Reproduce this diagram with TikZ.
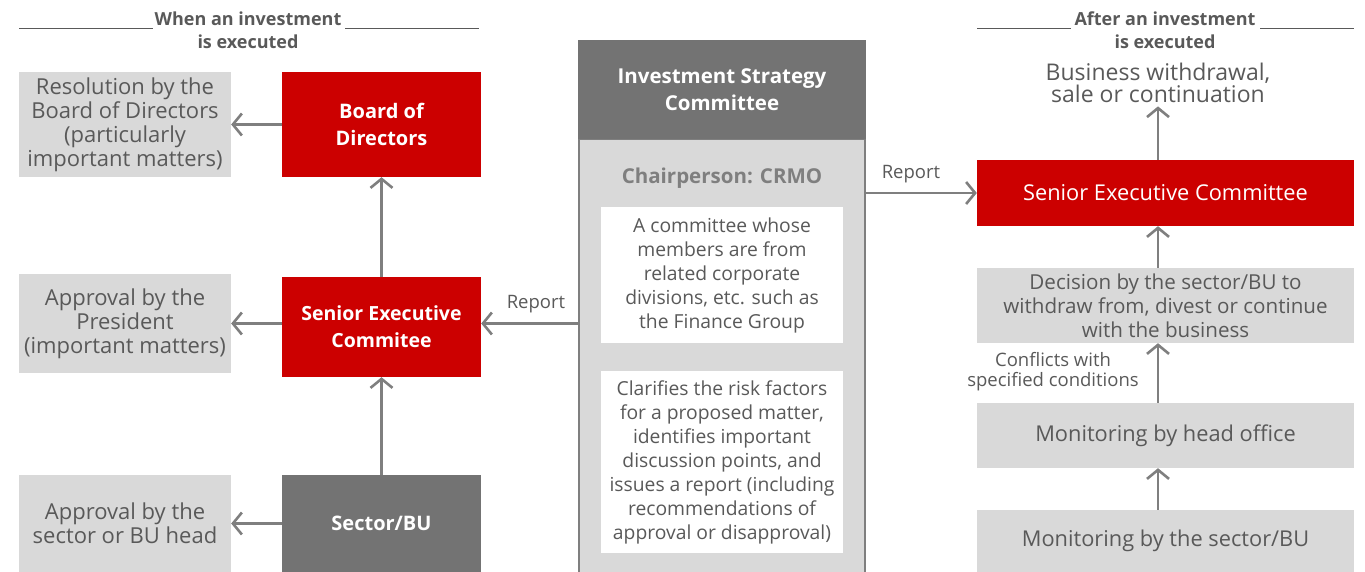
\documentclass[tikz,border=0pt]{standalone}
\usepackage{fontspec}
\setmainfont{Open Sans}
\usetikzlibrary{positioning,arrows.meta,calc}
\definecolor{corpRed}{HTML}{CC0000}
\definecolor{darkGray}{HTML}{737373}
\definecolor{paleGray}{HTML}{D9D9D9}
\definecolor{textGray}{HTML}{595959}
\definecolor{lineGray}{HTML}{7F7F7F}
\tikzset{
    outbox/.style={fill=paleGray,text=textGray,inner sep=0pt,align=center,
        font=\fontsize{22}{24}\selectfont},
    redbox/.style={fill=corpRed,text=white,inner sep=0pt,align=center,
        font=\fontsize{20}{27}\selectfont\bfseries},
    unitbox/.style={fill=darkGray,text=white,inner sep=0pt,align=center,
        font=\fontsize{20}{27}\selectfont\bfseries},
    notebox/.style={fill=white,text=textGray,inner sep=0pt,align=center,
        minimum width=242pt,font=\fontsize{19.3}{24}\selectfont},
    headline/.style={text=textGray,align=center,font=\fontsize{18}{23}\selectfont\bfseries},
    note/.style={text=textGray,align=center,font=\fontsize{18.5}{20}\selectfont},
    arrow/.style={-{Straight Barb[length=9pt,width=22pt]},draw=lineGray,line width=2.6pt},
    rule/.style={draw=textGray,line width=1pt}
}
\begin{document}
\begin{tikzpicture}[x=1pt,y=-1pt]
            \useasboundingbox (0,0) rectangle (1365,572);

            % when an investment is executed
            \node[headline] (whenhd) at (248,30) {When an investment\\is executed};
            \draw[rule] (19,29) -- (153,29);
            \draw[rule] (345,29) -- (479,29);

            \node[outbox,minimum width=212pt,minimum height=105pt] (resol) at (125,124.5)
                {Resolution by the\\Board of Directors\\(particularly\\important matters)};
            \node[redbox,minimum width=199pt,minimum height=105pt] (board) at (381.5,124.5)
                {Board of\\Directors};
            \node[outbox,minimum width=212pt,minimum height=99pt] (apppres) at (125,323.5)
                {Approval by the\\President\\(important matters)};
            \node[redbox,minimum width=199pt,minimum height=100pt,font=\fontsize{19.5}{27}\selectfont\bfseries]
                (secleft) at (381.5,327) {Senior Executive\\Commitee};
            \node[outbox,minimum width=212pt,minimum height=97pt] (apphead) at (125,523.5)
                {Approval by the\\sector or BU head};
            \node[unitbox,minimum width=199pt,minimum height=97pt] (sector) at (381.5,523.5)
                {Sector/BU};

            \draw[arrow] (board) -- (resol);
            \draw[arrow] (secleft.west |- apppres) -- (apppres);
            \draw[arrow] (sector) -- (apphead);
            \draw[arrow] (secleft) -- (board);
            \draw[arrow] (sector) -- (secleft);

            % investment strategy committee
            \node[fill=paleGray,draw=lineGray,line width=2pt,minimum width=286pt,minimum height=440pt,
                inner sep=0pt] (itcbody) at (722,359) {};
            \node[unitbox,minimum width=288pt,minimum height=99pt,font=\fontsize{20.5}{27}\selectfont\bfseries]
                (itchead) at (722,89.5) {Investment Strategy\\Committee};
            \node[text=lineGray,font=\fontsize{20.5}{24}\selectfont\bfseries] (chair) at (722,178)
                {Chairperson: CRMO};
            \node[notebox,minimum height=136pt] (members) at (722,275)
                {A committee whose\\members are from\\related corporate\\divisions, etc. such as\\the Finance Group};
            \node[notebox,minimum height=182pt] (roles) at (722,462)
                {Clarifies the risk factors\\for a proposed matter,\\identifies important\\discussion points, and\\issues a report (including\\recommendations of\\approval or disapproval)};

            \draw[arrow] (itcbody.west |- apppres) -- (secleft.east |- apppres);
            \node[note] (repleft) at (536,304) {Report};

            % after an investment is executed
            \node[headline] (afterhd) at (1165,30) {After an investment\\is executed};
            \draw[rule] (977,29) -- (1071,29);
            \draw[rule] (1260,29) -- (1354,29);

            \node[text=textGray,align=center,font=\fontsize{23}{22}\selectfont] (outcome) at (1158,83)
                {Business withdrawal,\\sale or continuation};
            \node[redbox,minimum width=377pt,minimum height=66pt,font=\fontsize{21.8}{24}\selectfont]
                (secright) at (1165.5,193) {Senior Executive Committee};
            \node[outbox,minimum width=377pt,minimum height=75pt,font=\fontsize{20.6}{24}\selectfont]
                (decide) at (1165.5,305.5)
                {Decision by the sector/BU to\\withdraw from, divest or continue\\with the business};
            \node[outbox,minimum width=377pt,minimum height=65pt,font=\fontsize{21.8}{24}\selectfont]
                (headoff) at (1165.5,435.5) {Monitoring by head office};
            \node[outbox,minimum width=377pt,minimum height=62pt,font=\fontsize{21.8}{24}\selectfont]
                (secmon) at (1165.5,541) {Monitoring by the sector/BU};

            \draw[arrow] (itcbody.east |- secright) -- (secright);
            \node[note] (repright) at (911,174) {Report};

            \draw[arrow] (secright.north -| outcome) -- (outcome);
            \draw[arrow] (decide.north -| outcome) -- (secright.south -| outcome);
            \draw[arrow] (headoff.north -| outcome) -- (decide.south -| outcome);
            \draw[arrow] (secmon.north -| outcome) -- (headoff.south -| outcome);
            \node[note] (conflict) at (1053,372)
                {Conflicts with\\specified conditions};
\end{tikzpicture}
\end{document}
